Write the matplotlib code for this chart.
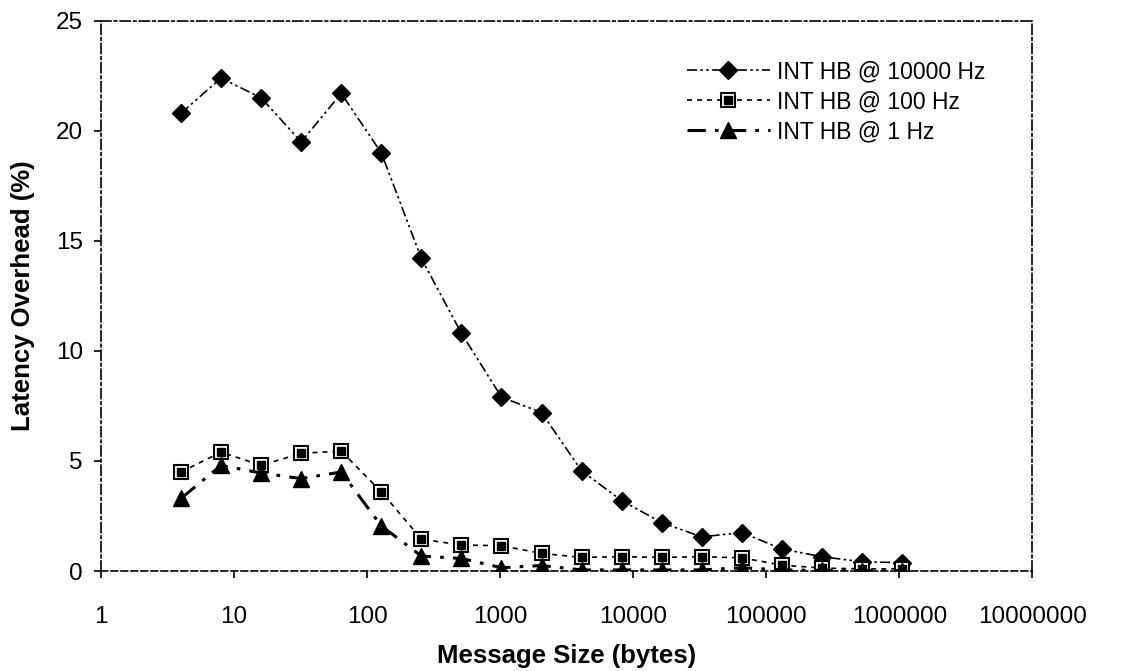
import numpy as np
import matplotlib.pyplot as plt

plt.rcParams['font.family'] = ['Liberation Sans', 'DejaVu Sans']

# message sizes (bytes)
sizes = [4, 8, 16, 32, 64, 128, 256, 512, 1024, 2048, 4096, 8192,
         16384, 32768, 65536, 131072, 262144, 524288, 1048576]

hb_10000 = [20.8, 22.4, 21.5, 19.5, 21.7, 19.0, 14.2, 10.8, 7.9, 7.2,
            4.55, 3.2, 2.2, 1.55, 1.75, 1.0, 0.65, 0.42, 0.38]
hb_100 = [4.5, 5.4, 4.8, 5.35, 5.45, 3.6, 1.45, 1.18, 1.15, 0.8,
          0.62, 0.65, 0.62, 0.65, 0.6, 0.27, 0.13, 0.1, 0.1]
hb_1 = [3.3, 4.8, 4.45, 4.2, 4.5, 2.05, 0.68, 0.57, 0.15, 0.25,
        0.05, 0.05, 0.05, 0.05, 0.15, 0.05, 0.03, 0.02, 0.02]

xticks = [1, 10, 100, 1000, 10000, 100000, 1000000, 10000000]
yticks = [0, 5, 10, 15, 20, 25]

fig = plt.figure(figsize=(11.21, 6.71), dpi=100)
ax = fig.add_axes([0.090, 0.149, 0.831, 0.820])

l1, = ax.plot(sizes, hb_10000, color='black', lw=1.2,
              linestyle=(0, (6, 2, 1.5, 2, 1.5, 2)),
              marker='D', markersize=9, markerfacecolor='black')
l2, = ax.plot(sizes, hb_100, color='black', lw=1.2, linestyle=(0, (3, 3)),
              marker='s', markersize=10, markerfacecolor='white',
              markeredgecolor='black', markeredgewidth=1.5)
# dark centre of the square markers
l2b, = ax.plot(sizes, hb_100, linestyle='none', marker='s', markersize=5.5,
               markerfacecolor='black', markeredgecolor='black')
l3, = ax.plot(sizes, hb_1, color='black', lw=2.2, linestyle=(0, (6, 3, 1.2, 3)),
              marker='^', markersize=11, markerfacecolor='black')

ax.set_xscale('log')
ax.set_xlim(1, 1e7)
ax.set_ylim(0, 25)
ax.set_xticks(xticks)
ax.set_xticklabels([str(t) for t in xticks])
ax.minorticks_off()
ax.set_yticks(yticks)
ax.tick_params(axis='both', labelsize=17.5, direction='out', length=5, width=1.2)
ax.tick_params(axis='x', pad=20)
ax.tick_params(axis='y', pad=8)

for side in ['top', 'left', 'right']:
    ax.spines[side].set_linestyle((0, (6, 2, 1.5, 2)))
    ax.spines[side].set_linewidth(1.2)
ax.spines['bottom'].set_linestyle((0, (4, 2)))
ax.spines['bottom'].set_linewidth(1.2)

ax.set_xlabel('Message Size (bytes)', fontsize=18.5, fontweight='bold')
ax.set_ylabel('Latency Overhead (%)', fontsize=18.5, fontweight='bold')
ax.xaxis.set_label_coords(0.5, -0.132)
ax.yaxis.set_label_coords(-0.071, 0.5)

ax.legend([l1, (l2, l2b), l3],
          ['INT HB @ 10000 Hz', 'INT HB @ 100 Hz', 'INT HB @ 1 Hz'],
          loc='upper left', bbox_to_anchor=(0.613, 0.910),
          bbox_transform=fig.transFigure, frameon=False, fontsize=16.5,
          handlelength=3.6, handletextpad=0.3, labelspacing=0.3,
          borderpad=0, borderaxespad=0)

fig.savefig('out.png', dpi=100)
